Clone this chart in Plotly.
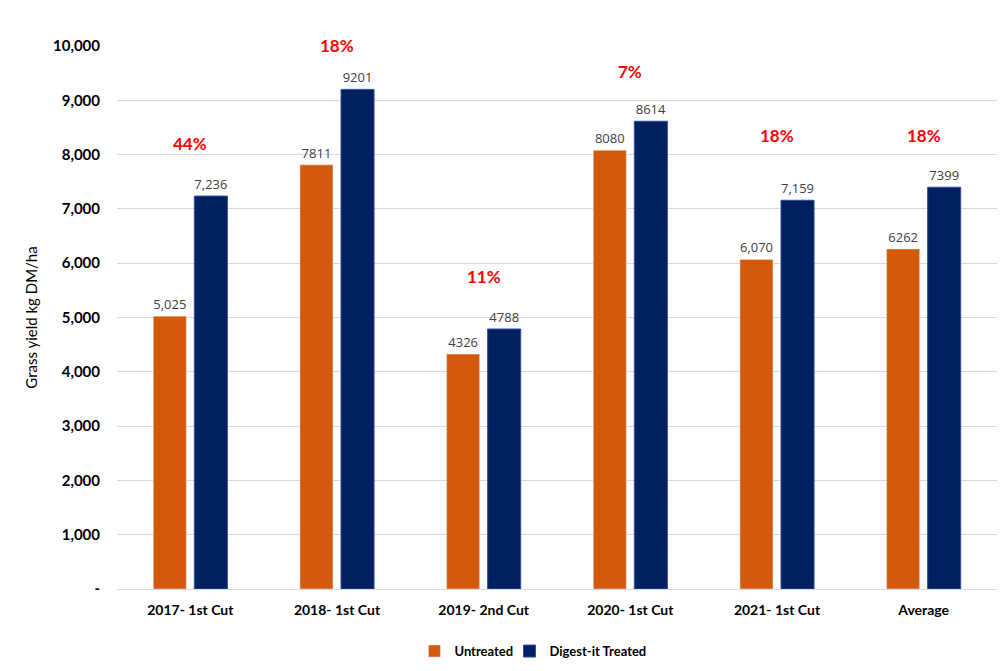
import plotly.graph_objects as go

# Chart data
categories = ["2017- 1st Cut", "2018- 1st Cut", "2019- 2nd Cut", "2020- 1st Cut", "2021- 1st Cut", "Average"]
untreated = [5025, 7811, 4326, 8080, 6070, 6262]
treated = [7236, 9201, 4788, 8614, 7159, 7399]
untreated_labels = ["5,025", "7811", "4326", "8080", "6,070", "6262"]
treated_labels = ["7,236", "9201", "4788", "8614", "7,159", "7399"]
pct_increase = ["44%", "18%", "11%", "7%", "18%", "18%"]

y_ticks = [0, 1000, 2000, 3000, 4000, 5000, 6000, 7000, 8000, 9000, 10000]
y_ticktext = ["-", "1,000", "2,000", "3,000", "4,000", "5,000", "6,000", "7,000", "8,000", "9,000", "10,000"]

FONT = "Lato"
label_font = dict(family="Open Sans", size=13, color="#404040")
legend_font = dict(family=FONT, size=13, weight="bold")

fig = go.Figure()

fig.add_trace(go.Bar(
    name="Untreated", x=categories, y=untreated,
    marker_color="#D35A0B",
    text=untreated_labels, textposition="outside", textfont=label_font,
    cliponaxis=False, legend="legend",
))
fig.add_trace(go.Bar(
    name="Digest-it Treated", x=categories, y=treated,
    marker=dict(color="#002060", line=dict(color="#2F4EA8", width=1)),
    text=treated_labels, textposition="outside", textfont=label_font,
    cliponaxis=False, legend="legend2",
))

# red % increase labels above each group (pixel lift over the taller bar)
lift = [53, 44, 53, 50, 65, 52]
for cat, pct, hi, dy in zip(categories, pct_increase, treated, lift):
    fig.add_annotation(
        x=cat, y=hi, text=pct, showarrow=False, yanchor="middle",
        yshift=dy, font=dict(family=FONT, size=17, color="#FF0000", weight="bold"),
    )

# page body has an 8px margin, so the figure is sized to fit the window
fig.update_layout(
    width=997, height=663,
    margin=dict(l=109, r=8, t=38, b=82),
    plot_bgcolor="white", paper_bgcolor="white",
    barmode="group", bargap=0.44, bargroupgap=0.195,
    font=dict(family=FONT, color="#000000"),
    legend=dict(
        orientation="h", x=0.338, xanchor="left", yref="container", y=0.03,
        yanchor="middle", font=legend_font, itemwidth=30,
        bgcolor="rgba(0,0,0,0)",
    ),
    legend2=dict(
        orientation="h", x=0.446, xanchor="left", yref="container", y=0.03,
        yanchor="middle", font=legend_font, itemwidth=30,
        bgcolor="rgba(0,0,0,0)",
    ),
    showlegend=True,
)

fig.update_yaxes(
    range=[0, 10000], tickvals=y_ticks, ticktext=y_ticktext,
    showgrid=True, gridcolor="#D9D9D9", gridwidth=1,
    zeroline=False, showline=False, ticks="",
    tickfont=dict(family=FONT, size=15, weight="bold"),
    ticklabelstandoff=16, automargin=False,
    title=dict(text="Grass yield kg DM/ha", font=dict(family=FONT, size=15), standoff=11),
)
fig.update_xaxes(
    showline=True, linecolor="#D9D9D9", ticks="", automargin=False,
    ticklabelstandoff=8,
    tickfont=dict(family=FONT, size=14, weight="bold"),
)

fig.write_html("out.html")
